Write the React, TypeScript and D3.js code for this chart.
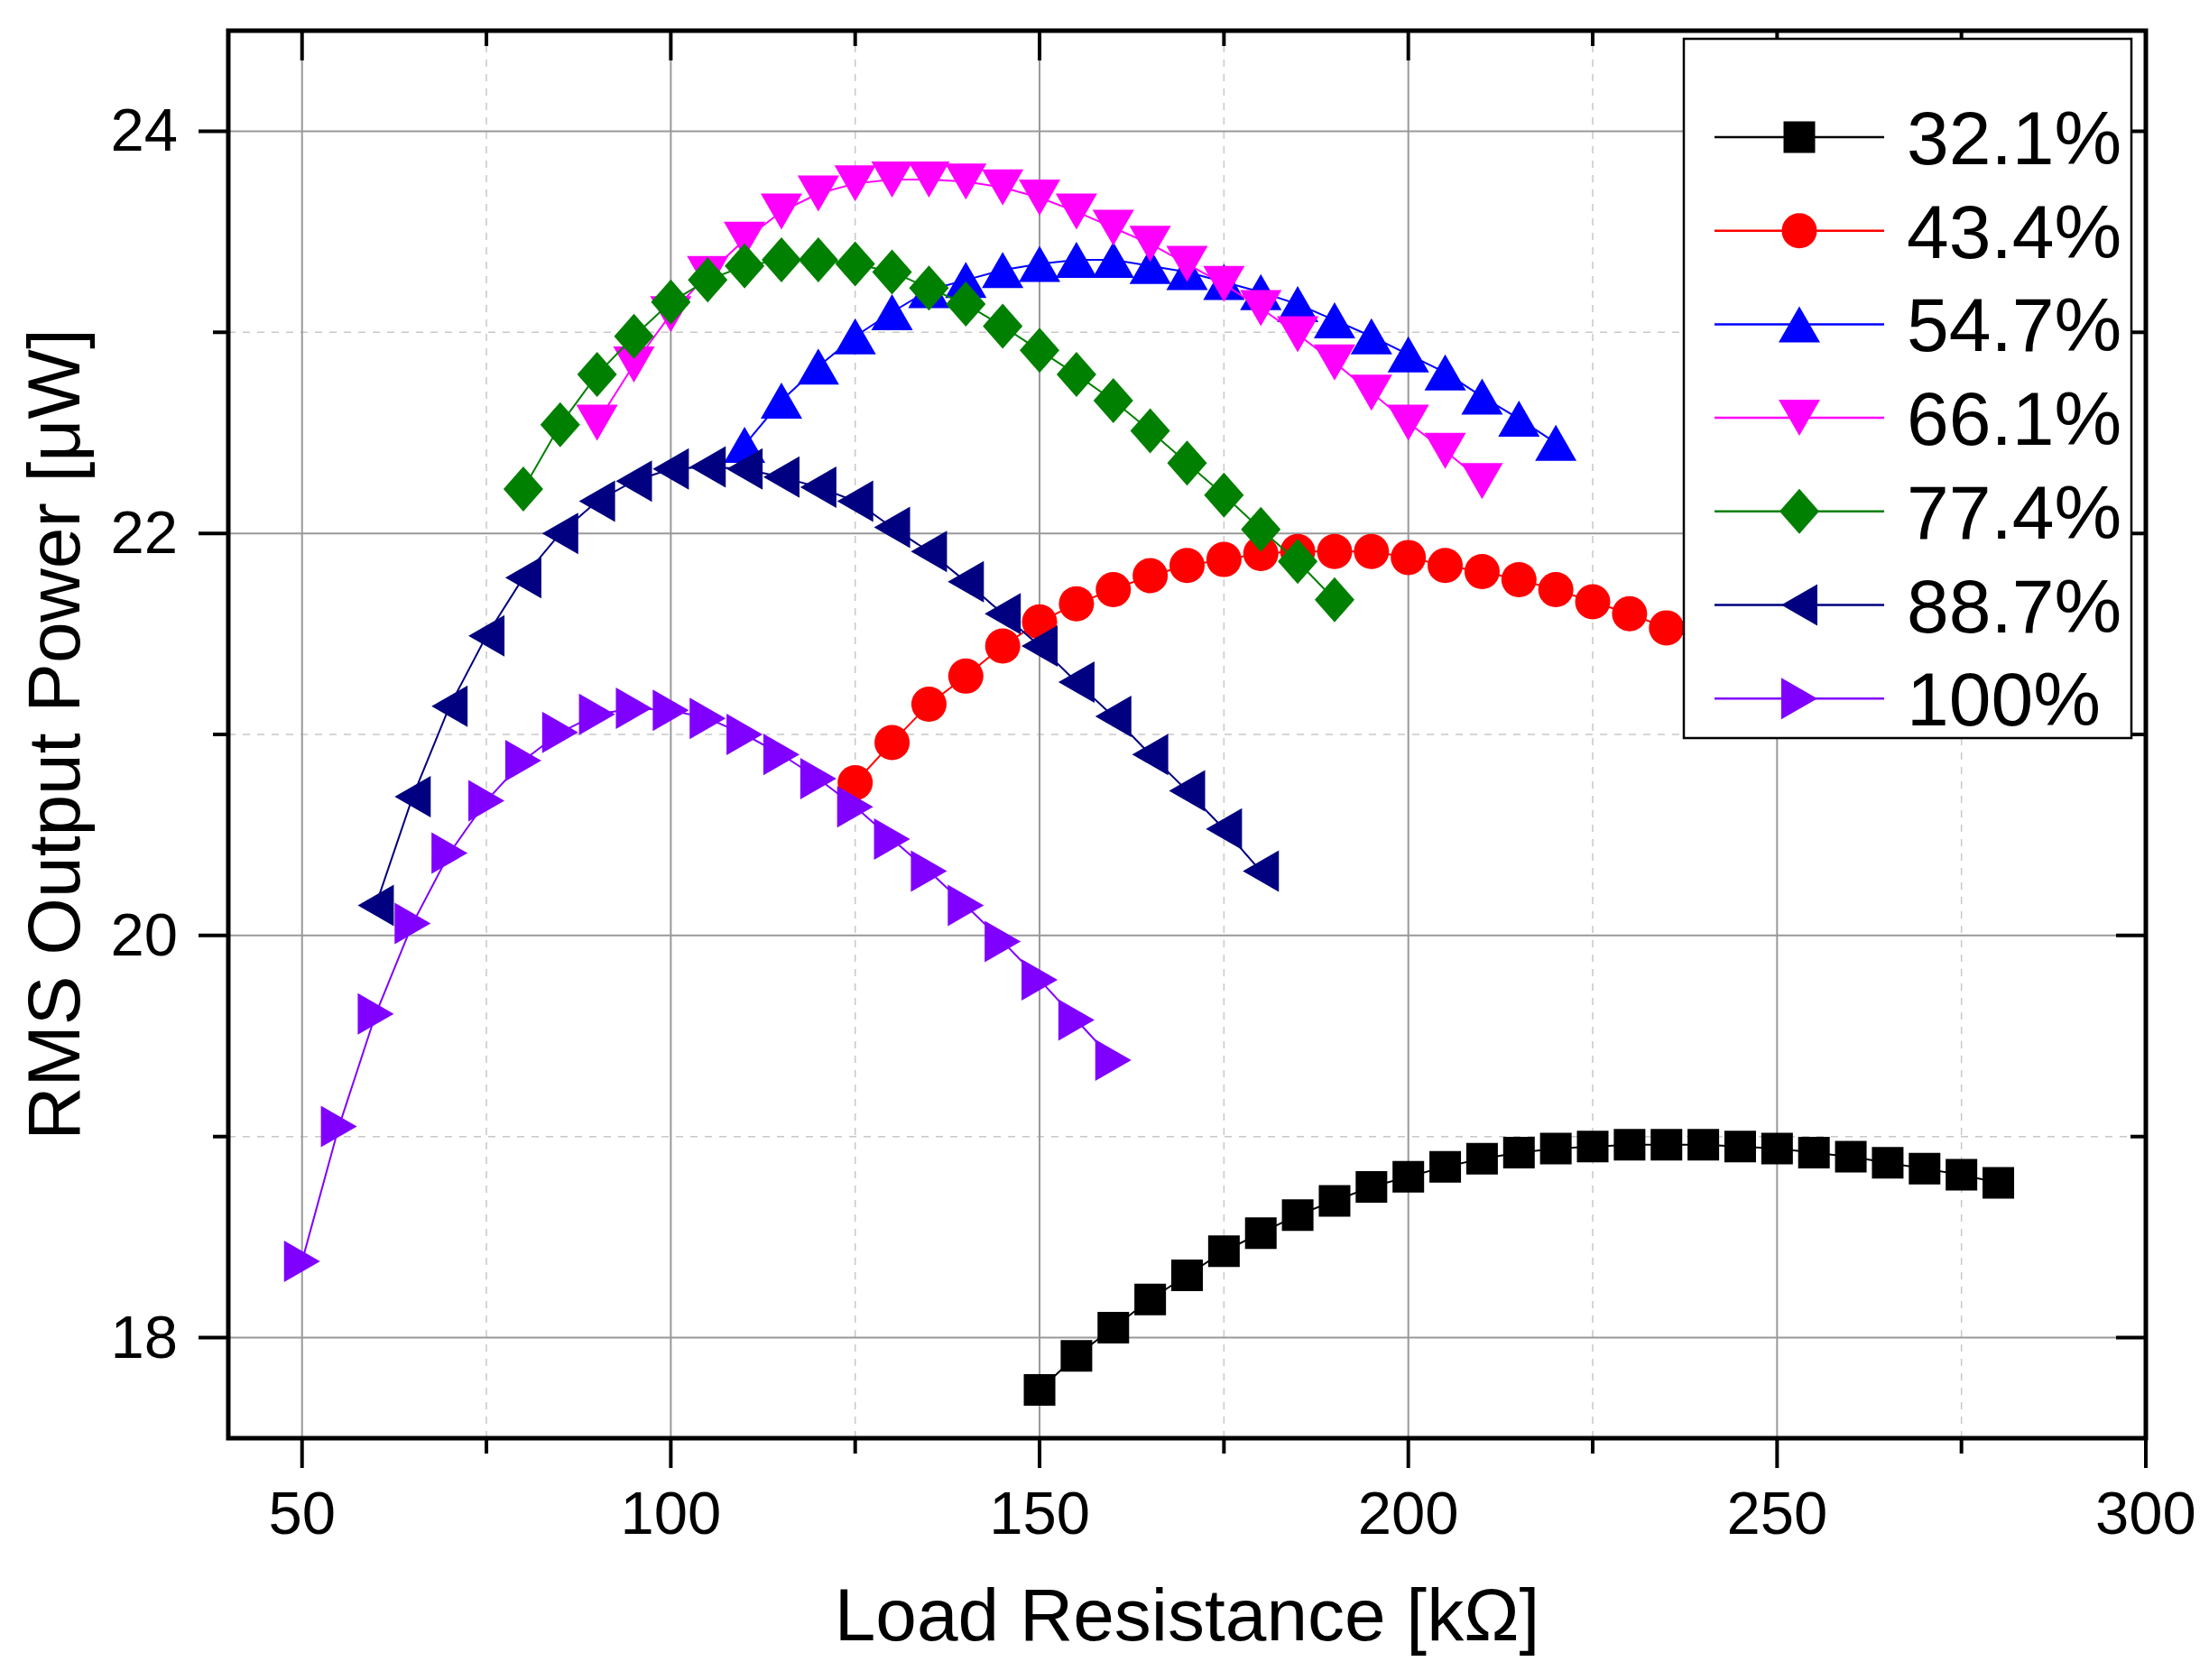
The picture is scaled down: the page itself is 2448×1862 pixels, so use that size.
import React from "react";
import * as d3 from "d3";

const xTicksMajor = [50, 100, 150, 200, 250, 300];
const xTicksMinor = [75, 125, 175, 225, 275];
const yTicksMajor = [18, 20, 22, 24];
const yTicksMinor = [19, 21, 23];

const x32 = [150,155,160,165,170,175,180,185,190,195,200,205,210,215,220,225,230,235,240,245,250,255,260,265,270,275,280];
const y32 = [17.74,17.91,18.05,18.19,18.31,18.43,18.52,18.61,18.68,18.75,18.80,18.85,18.89,18.92,18.94,18.95,18.96,18.96,18.96,18.95,18.94,18.92,18.90,18.87,18.84,18.81,18.77];

const x43 = [125,130,135,140,145,150,155,160,165,170,175,180,185,190,195,200,205,210,215,220,225,230,235,240];
const y43 = [20.76,20.96,21.15,21.29,21.44,21.56,21.65,21.72,21.79,21.84,21.87,21.90,21.91,21.91,21.91,21.88,21.84,21.81,21.77,21.72,21.66,21.60,21.53,21.46];

const x54 = [110,115,120,125,130,135,140,145,150,155,160,165,170,175,180,185,190,195,200,205,210,215,220];
const y54 = [22.44,22.66,22.83,22.98,23.10,23.21,23.26,23.31,23.34,23.36,23.36,23.33,23.30,23.25,23.20,23.14,23.06,22.98,22.89,22.80,22.68,22.57,22.45];

const x66 = [90,95,100,105,110,115,120,125,130,135,140,145,150,155,160,165,170,175,180,185,190,195,200,205,210];
const y66 = [22.55,22.84,23.09,23.29,23.46,23.60,23.69,23.74,23.76,23.76,23.75,23.72,23.67,23.60,23.52,23.44,23.34,23.24,23.12,22.99,22.85,22.70,22.55,22.41,22.26];

const x77 = [80,85,90,95,100,105,110,115,120,125,130,135,140,145,150,155,160,165,170,175,180,185,190];
const y77 = [22.22,22.54,22.79,22.98,23.15,23.26,23.33,23.36,23.36,23.34,23.30,23.22,23.14,23.03,22.91,22.79,22.66,22.51,22.35,22.19,22.02,21.86,21.67];

const x88 = [60,65,70,75,80,85,90,95,100,105,110,115,120,125,130,135,140,145,150,155,160,165,170,175,180];
const y88 = [20.15,20.69,21.14,21.49,21.78,22.00,22.16,22.26,22.32,22.33,22.32,22.28,22.23,22.16,22.03,21.91,21.76,21.60,21.44,21.26,21.09,20.90,20.72,20.53,20.32];

const x100 = [50,55,60,65,70,75,80,85,90,95,100,105,110,115,120,125,130,135,140,145,150,155,160];
const y100 = [18.38,19.05,19.61,20.06,20.41,20.67,20.87,21.01,21.10,21.13,21.12,21.08,21.00,20.90,20.78,20.64,20.48,20.32,20.15,19.97,19.78,19.58,19.38];

const seriesLabels = ["32.1%", "43.4%", "54.7%", "66.1%", "77.4%", "88.7%", "100%"];
const seriesColors = ["#000000", "#ff0000", "#0000ff", "#ff00ff", "#008000", "#000080", "#8000ff"];
const seriesShapes = ["square", "circle", "up", "down", "diamond", "left", "right"];
const seriesX = [x32, x43, x54, x66, x77, x88, x100];
const seriesY = [y32, y43, y54, y66, y77, y88, y100];

const W = 2448, H = 1862;
const L = 253, R = 2378, T = 34, B = 1594;
const FONT = "'Liberation Sans', Arial, sans-serif";

function markerPath(shape: string): string {
  switch (shape) {
    case "square": { const s = 17.5; return `M${-s},${-s}H${s}V${s}H${-s}Z`; }
    case "circle": { const r = 19.5; return `M${r},0A${r},${r} 0 1,1 ${-r},0A${r},${r} 0 1,1 ${r},0Z`; }
    case "up": return `M0,-20L23,20L-23,20Z`;
    case "down": return `M0,20L23,-20L-23,-20Z`;
    case "diamond": return `M0,-25L22,0L0,25L-22,0Z`;
    case "left": return `M-20,0L20,-23L20,23Z`;
    case "right": return `M20,0L-20,-23L-20,23Z`;
  }
  return "";
}

export default function App() {
  const x = d3.scaleLinear().domain([40, 300]).range([L, R]);
  const y = d3.scaleLinear().domain([17.5, 24.5]).range([B, T]);
  const line = d3.line<[number, number]>().x(d => x(d[0])).y(d => y(d[1]));

  const legX0 = 1866, legY0 = 43, legX1 = 2362, legY1 = 818;
  const legRow0 = 152, legStep = 103.7;

  return (
    <svg width={W} height={H} style={{ position: "absolute", left: 0, top: 0, background: "#fff" }} xmlns="http://www.w3.org/2000/svg">
      <rect x={0} y={0} width={W} height={H} fill="#fff" />
      {/* grid */}
      <g>
        {xTicksMinor.map(v => (
          <line key={"gxm" + v} x1={x(v)} x2={x(v)} y1={T} y2={B} stroke="#c8c8c8" strokeWidth={1.5} strokeDasharray="8,8" />
        ))}
        {yTicksMinor.map(v => (
          <line key={"gym" + v} x1={L} x2={R} y1={y(v)} y2={y(v)} stroke="#c8c8c8" strokeWidth={1.5} strokeDasharray="8,8" />
        ))}
        {xTicksMajor.map(v => (
          <line key={"gx" + v} x1={x(v)} x2={x(v)} y1={T} y2={B} stroke="#999" strokeWidth={2} />
        ))}
        {yTicksMajor.map(v => (
          <line key={"gy" + v} x1={L} x2={R} y1={y(v)} y2={y(v)} stroke="#999" strokeWidth={2} />
        ))}
      </g>
      {/* series */}
      {seriesX.map((xs, i) => {
        const pts: [number, number][] = xs.map((xv, j) => [xv, seriesY[i][j]]);
        return (
          <g key={"s" + i}>
            <path d={line(pts) || ""} fill="none" stroke={seriesColors[i]} strokeWidth={2} />
            {pts.map((p, j) => (
              <path key={j} d={markerPath(seriesShapes[i])} transform={`translate(${x(p[0])},${y(p[1])})`} fill={seriesColors[i]} />
            ))}
          </g>
        );
      })}
      {/* ticks */}
      <g stroke="#000" strokeWidth={4}>
        {xTicksMajor.map(v => (
          <g key={"tx" + v}>
            <line x1={x(v)} x2={x(v)} y1={B} y2={B + 33} />
            <line x1={x(v)} x2={x(v)} y1={T} y2={T + 33} />
          </g>
        ))}
        {xTicksMinor.map(v => (
          <g key={"txm" + v}>
            <line x1={x(v)} x2={x(v)} y1={B} y2={B + 17} />
            <line x1={x(v)} x2={x(v)} y1={T} y2={T + 17} />
          </g>
        ))}
        {yTicksMajor.map(v => (
          <g key={"ty" + v}>
            <line x1={L - 33} x2={L} y1={y(v)} y2={y(v)} />
            <line x1={R - 33} x2={R} y1={y(v)} y2={y(v)} />
          </g>
        ))}
        {yTicksMinor.map(v => (
          <g key={"tym" + v}>
            <line x1={L - 17} x2={L} y1={y(v)} y2={y(v)} />
            <line x1={R - 17} x2={R} y1={y(v)} y2={y(v)} />
          </g>
        ))}
      </g>
      {/* frame */}
      <rect x={L} y={T} width={R - L} height={B - T} fill="none" stroke="#000" strokeWidth={5} />
      {/* tick labels */}
      <g fontFamily={FONT} fontSize={67} fill="#000">
        {xTicksMajor.map(v => (
          <text key={"lx" + v} x={x(v)} y={1700} textAnchor="middle">{v}</text>
        ))}
        {yTicksMajor.map(v => (
          <text key={"ly" + v} x={197} y={y(v) + 22} textAnchor="end">{v}</text>
        ))}
      </g>
      {/* axis titles */}
      <text x={(L + R) / 2} y={1818} textAnchor="middle" fontFamily={FONT} fontSize={82} fill="#000">Load Resistance [kΩ]</text>
      <text transform={`translate(88,${(T + B) / 2}) rotate(-90)`} textAnchor="middle" fontFamily={FONT} fontSize={82} fill="#000">RMS Output Power [μW]</text>
      {/* legend */}
      <g>
        <rect x={legX0} y={legY0} width={legX1 - legX0} height={legY1 - legY0} fill="#fff" stroke="#000" strokeWidth={2.5} />
        {seriesLabels.map((lab, i) => {
          const cy = legRow0 + i * legStep;
          return (
            <g key={"lg" + i}>
              <line x1={1900} x2={2088} y1={cy} y2={cy} stroke={seriesColors[i]} strokeWidth={2.5} />
              <path d={markerPath(seriesShapes[i])} transform={`translate(1994,${cy})`} fill={seriesColors[i]} />
              <text x={2113} y={cy + 30} fontFamily={FONT} fontSize={84} fill="#000">{lab}</text>
            </g>
          );
        })}
      </g>
    </svg>
  );
}
